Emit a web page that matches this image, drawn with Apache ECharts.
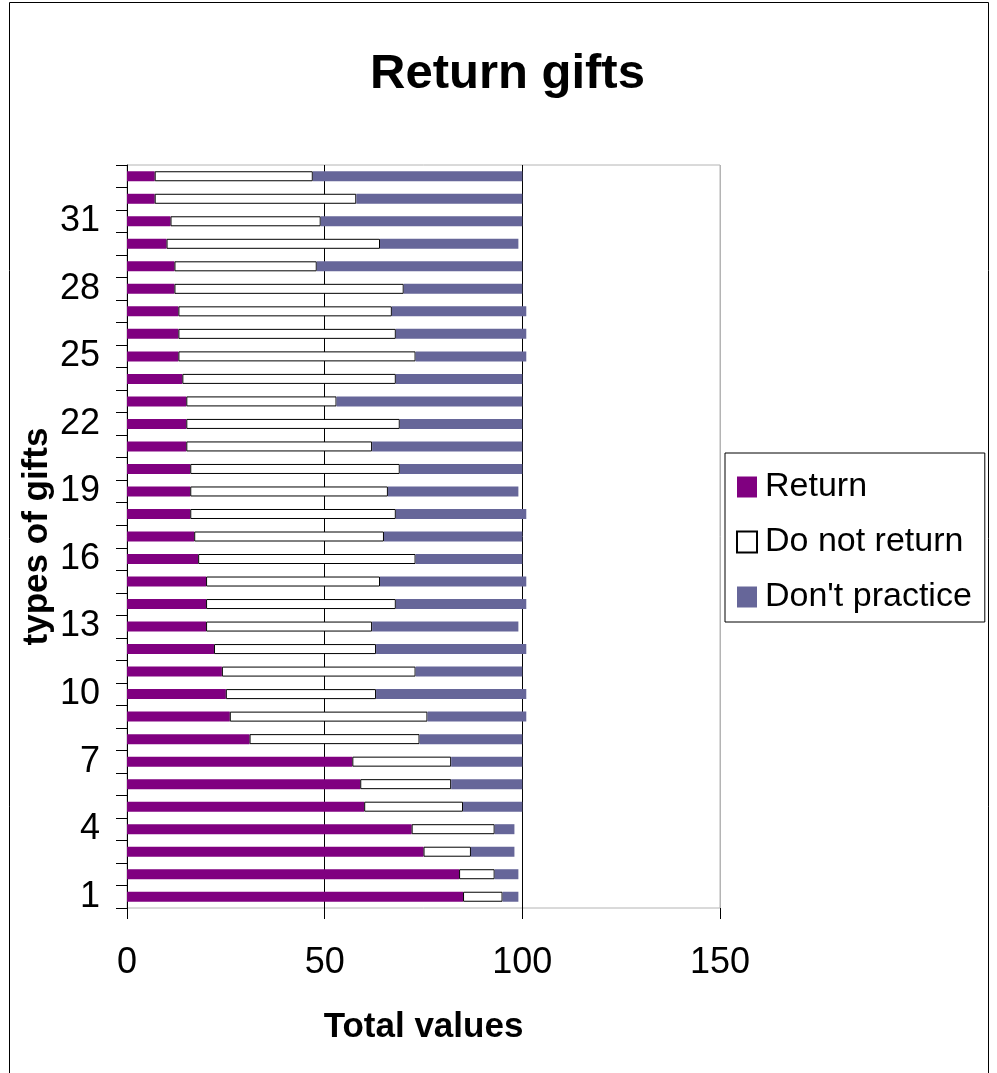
<!DOCTYPE html>
<html>
<head>
<meta charset="utf-8">
<title>Return gifts</title>
<script src="https://cdn.jsdelivr.net/npm/echarts@6/dist/echarts.min.js"></script>
<style>
  html, body { margin: 0; padding: 0; background: #ffffff; }
  #chart { width: 997px; height: 1073px; }
</style>
</head>
<body>
<div id="chart"></div>
<script>
// Gift types 1..33 (drawn bottom to top)
const giftTypes = ['1','2','3','4','5','6','7','8','9','10','11','12','13','14','15','16','17',
  '18','19','20','21','22','23','24','25','26','27','28','29','30','31','32','33'];

// Answers per gift type
const returnVals = [85, 84, 75, 72, 60, 59, 57, 31, 26, 25, 24, 22, 20, 20, 20, 18, 17,
  16, 16, 16, 15, 15, 15, 14, 13, 13, 13, 12, 12, 10, 11, 7, 7];
const doNotReturnVals = [10, 9, 12, 21, 25, 23, 25, 43, 50, 38, 49, 41, 42, 48, 44, 55, 48,
  52, 50, 53, 47, 54, 38, 54, 60, 55, 54, 58, 36, 54, 38, 51, 40];
const dontPracticeVals = [4, 6, 11, 5, 15, 18, 18, 26, 25, 38, 27, 38, 37, 33, 37, 27, 35,
  33, 33, 31, 38, 31, 47, 32, 28, 33, 34, 30, 52, 35, 51, 42, 53];

const xTicks = { min: 0, max: 150, step: 50 };

const FONT = "'Liberation Sans', Arial, Helvetica, sans-serif";

const chart = echarts.init(document.getElementById('chart'), null, { renderer: 'canvas' });

function barSeries(name, values, color, border) {
  return {
    name: name,
    type: 'bar',
    stack: 'total',
    data: values,
    barWidth: 10,
    itemStyle: {
      color: color,
      borderColor: border ? '#000000' : color,
      borderWidth: border ? 1 : 0
    },
    emphasis: { disabled: true }
  };
}

chart.setOption({
  animation: false,
  backgroundColor: '#ffffff',
  textStyle: { fontFamily: FONT },
  graphic: [{
    type: 'rect',
    z: -10,
    shape: { x: 9.5, y: 2.5, width: 979, height: 1090 },
    style: { fill: 'none', stroke: '#000000', lineWidth: 1 }
  }],
  title: {
    text: 'Return gifts',
    left: 370,
    top: 50,
    padding: 0,
    textStyle: { fontFamily: FONT, fontSize: 49, fontWeight: 'bold', color: '#000000', lineHeight: 49 }
  },
  legend: {
    orient: 'vertical',
    left: 725,
    top: 453,
    padding: [17, 13, 8, 11],
    itemGap: 21,
    itemWidth: 20,
    itemHeight: 21,
    borderColor: '#000000',
    borderWidth: 1,
    icon: 'rect',
    textStyle: { fontFamily: FONT, fontSize: 34, color: '#000000', lineHeight: 34, padding: [0, 0, 0, 3] },
    data: ['Return', 'Do not return', "Don't practice"]
  },
  grid: {
    left: 127,
    top: 165,
    width: 593,
    height: 743,
    show: true,
    borderColor: '#b4b4b4',
    borderWidth: 1,
    backgroundColor: '#ffffff'
  },
  xAxis: {
    type: 'value',
    min: xTicks.min,
    max: xTicks.max,
    interval: xTicks.step,
    name: 'Total values',
    nameLocation: 'middle',
    nameGap: 102,
    nameMoveOverlap: false,
    nameTextStyle: { fontFamily: FONT, fontSize: 35, fontWeight: 'bold', color: '#000000', lineHeight: 35 },
    axisLine: { show: false },
    axisTick: { show: true, length: 11, lineStyle: { color: '#000000', width: 1 } },
    axisLabel: { fontFamily: FONT, fontSize: 36, color: '#000000', margin: 37, lineHeight: 36 },
    splitLine: { show: true, lineStyle: { color: ['#000000', '#000000', '#000000', '#b4b4b4'], width: 1 } }
  },
  yAxis: {
    type: 'category',
    data: giftTypes,
    name: 'types of gifts',
    nameLocation: 'middle',
    nameGap: 72,
    nameMoveOverlap: false,
    nameTextStyle: { fontFamily: FONT, fontSize: 35, fontWeight: 'bold', color: '#000000', lineHeight: 35 },
    axisLine: { show: true, lineStyle: { color: '#000000', width: 1 } },
    axisTick: { show: true, length: 11, interval: 0, lineStyle: { color: '#000000', width: 1 } },
    axisLabel: { interval: 2, fontFamily: FONT, fontSize: 36, color: '#000000', margin: 27 },
    splitLine: { show: false }
  },
  series: [
    barSeries('Return', returnVals, '#800080', false),
    barSeries('Do not return', doNotReturnVals, '#ffffff', true),
    barSeries("Don't practice", dontPracticeVals, '#666699', false)
  ]
});
</script>
</body>
</html>
